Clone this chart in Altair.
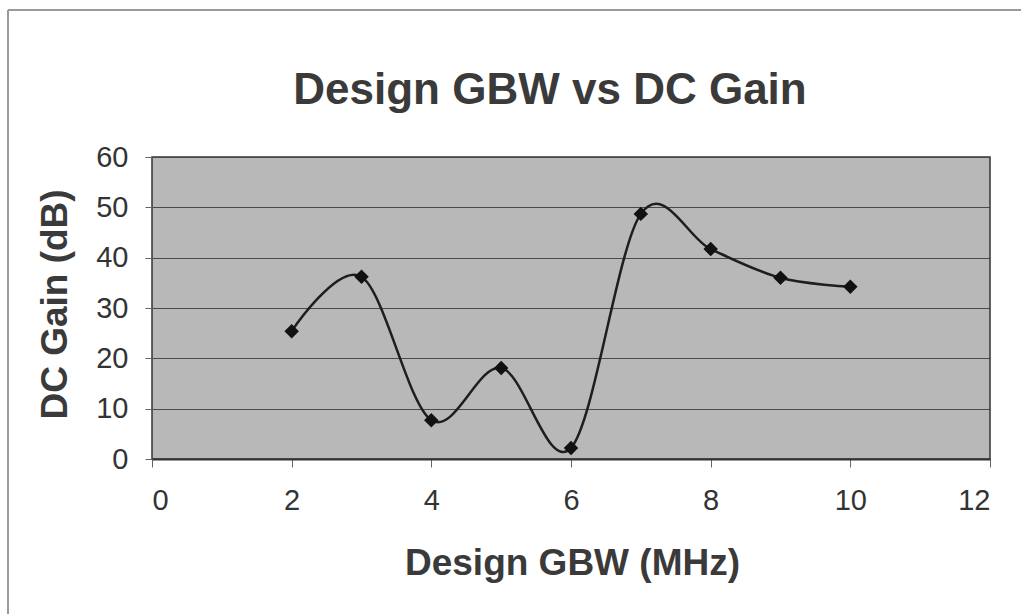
import altair as alt
import pandas as pd

gbw = [2, 3, 4, 5, 6, 7, 8, 9, 10]
gain = [25.4, 36.2, 7.7, 18.1, 2.2, 48.7, 41.7, 36.0, 34.2]
chart_title = "Design GBW vs DC Gain"

df = pd.DataFrame({"gbw": gbw, "gain": gain})

W, H = 838, 302
L, T = 152, 157

x = alt.X("gbw:Q", scale=alt.Scale(domain=[0, 12], nice=False),
          axis=alt.Axis(values=[0, 2, 4, 6, 8, 10, 12], title="Design GBW (MHz)",
                        grid=False, tickSize=8, tickColor="#666", domainColor="#333",
                        domainWidth=2, labelPadding=19,
                        titleX=420, titleY=104, titleBaseline="middle", titleAlign="center"))
y = alt.Y("gain:Q", scale=alt.Scale(domain=[0, 60], nice=False),
          axis=alt.Axis(values=[0, 10, 20, 30, 40, 50, 60], title="DC Gain (dB)",
                        grid=True, gridColor="#4a4a4a", gridWidth=1,
                        tickSize=7, tickColor="#666", domain=False,
                        labelPadding=17,
                        titleX=-97, titleY=147, titleAngle=-90,
                        titleBaseline="middle", titleAlign="center"))

line = alt.Chart(df).mark_line(interpolate="cardinal", color="#1e1e1e", strokeWidth=2.5).encode(x=x, y=y)
pts = alt.Chart(df).mark_point(shape="diamond", filled=True, color="#111", size=210, opacity=1).encode(x=x, y=y)

frame_top = alt.Chart(df).mark_rule(color="#9a9a9a", strokeWidth=1.5, clip=False).encode(
    x=alt.value(-L + 8), x2=alt.value(1021 - L), y=alt.value(-T + 10))
frame_left = alt.Chart(df).mark_rule(color="#9a9a9a", strokeWidth=1.5, clip=False).encode(
    x=alt.value(-L + 8), y=alt.value(-T + 10), y2=alt.value(614 - T))

title = alt.Chart(pd.DataFrame({"t": [chart_title]})).mark_text(
    font="Liberation Sans", fontSize=44, fontWeight="bold", color="#3a3a3a",
    align="center", baseline="alphabetic", clip=False
).encode(text="t:N", x=alt.value(550 - L), y=alt.value(104 - T))

chart = alt.layer(frame_top, frame_left, line, pts, title).properties(
    width=W, height=H,
    autosize=alt.AutoSizeParams(type="none"),
    padding={"left": L, "top": T, "right": 1021 - L - W, "bottom": 614 - T - H},
    background="white",
).configure_view(
    fill="#b8b8b8", stroke="#333", strokeWidth=1.5
).configure_axis(
    labelFont="Liberation Sans", labelFontSize=29, labelColor="#333",
    titleFont="Liberation Sans", titleFontSize=37, titleFontWeight="bold", titleColor="#3a3a3a",
)

chart.save("out.html", embed_options={"renderer": "svg", "actions": False})
